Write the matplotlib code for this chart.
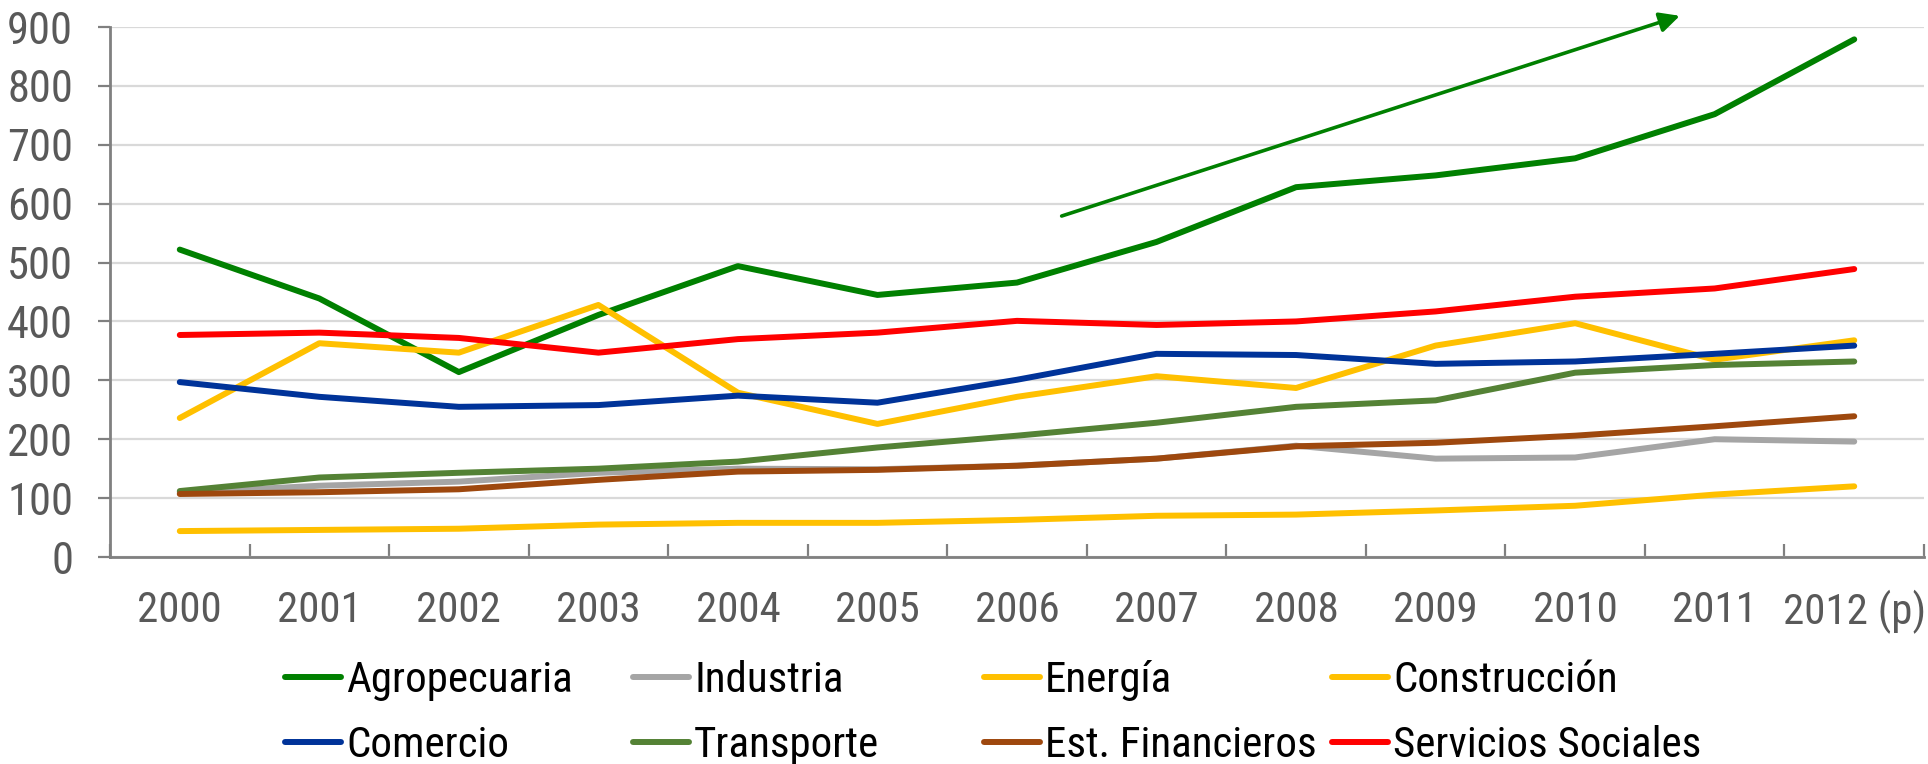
import matplotlib
matplotlib.use("Agg")
import matplotlib.pyplot as plt

plt.rcParams["font.family"] = ["Roboto Condensed", "DejaVu Sans"]

# ---- data -------------------------------------------------------------
years = ["2000", "2001", "2002", "2003", "2004", "2005", "2006",
         "2007", "2008", "2009", "2010", "2011", "2012 (p)"]

agropecuaria = [522, 439, 314, 411, 494, 445, 466, 535, 628, 648, 677, 752, 879]
industria = [109, 121, 128, 143, 150, 149, 155, 167, 189, 167, 169, 200, 196]
energia = [44, 46, 48, 55, 58, 58, 63, 70, 72, 79, 87, 106, 120]
construccion = [236, 363, 347, 428, 279, 226, 272, 307, 287, 359, 397, 335, 368]
comercio = [297, 272, 255, 258, 274, 262, 301, 345, 343, 328, 332, 345, 359]
transporte = [112, 135, 143, 150, 162, 186, 206, 228, 255, 266, 313, 326, 332]
est_financieros = [107, 110, 115, 131, 145, 148, 155, 167, 188, 194, 206, 222, 239]
servicios_sociales = [377, 381, 372, 347, 370, 381, 401, 394, 400, 417, 442, 456, 489]

labels = ["Agropecuaria", "Industria", "Energía", "Construcción",
          "Comercio", "Transporte", "Est. Financieros", "Servicios Sociales"]
series = [agropecuaria, industria, energia, construccion,
          comercio, transporte, est_financieros, servicios_sociales]
colors = ["#008000", "#A5A5A5", "#FFC000", "#FFC000",
          "#003399", "#548235", "#9E480E", "#FF0000"]

# trend arrow (category index, value)
arrow_start = (6.32, 579)
arrow_end = (10.75, 919)

# ---- figure -----------------------------------------------------------
fig = plt.figure(figsize=(19.28, 7.64), dpi=100)
ax = fig.add_axes([110 / 1928, 1 - 557 / 764, (1924 - 110) / 1928, (557 - 27) / 764])

x = list(range(len(years)))
handles = []
for vals, lab, col in zip(series, labels, colors):
    h, = ax.plot(x, vals, color=col, lw=4.3, solid_capstyle="round",
                 solid_joinstyle="round", label=lab, zorder=3)
    handles.append(h)

ax.annotate("", xy=arrow_end, xytext=arrow_start, annotation_clip=False,
            arrowprops=dict(arrowstyle="-|>", color="#008000", lw=2.6,
                            mutation_scale=30, shrinkA=0, shrinkB=0),
            zorder=4)

ax.set_xlim(-0.5, len(years) - 0.5)
ax.set_ylim(0, 900)
ax.set_yticks(range(0, 901, 100))
ax.grid(axis="y", color="#D9D9D9", lw=1.6, zorder=0)
ax.set_axisbelow(True)

# category boundaries as major ticks, labels on minor ticks at centres
ax.set_xticks([i - 0.5 for i in range(len(years) + 1)])
ax.set_xticklabels([])
ax.set_xticks(x, minor=True)
ax.set_xticklabels(years, minor=True)
ax.tick_params(axis="x", which="major", direction="in", length=9.5,
               width=1.6, color="#808080")
ax.tick_params(axis="x", which="minor", length=0, pad=24,
               labelsize=31, labelcolor="#595959")
ax.tick_params(axis="y", direction="out", length=8.5, width=1.6,
               color="#808080", labelsize=32, labelcolor="#595959", pad=18)

for side in ["top", "right"]:
    ax.spines[side].set_visible(False)
for side in ["left", "bottom"]:
    ax.spines[side].set_color("#808080")
    ax.spines[side].set_linewidth(2)

# legend: four fixed-width columns, two rows
col_x = [285, 633, 984, 1332]
for c in range(4):
    pair = [handles[c], handles[c + 4]]
    fig.legend(pair, [labels[c], labels[c + 4]], loc="upper left",
               bbox_to_anchor=(col_x[c] / 1928, 1 - 660 / 764),
               frameon=False, fontsize=31, handlelength=1.3,
               handletextpad=0.12, labelspacing=0.56, labelcolor="black",
               borderpad=0, borderaxespad=0)

fig.savefig("out.png", dpi=100)
